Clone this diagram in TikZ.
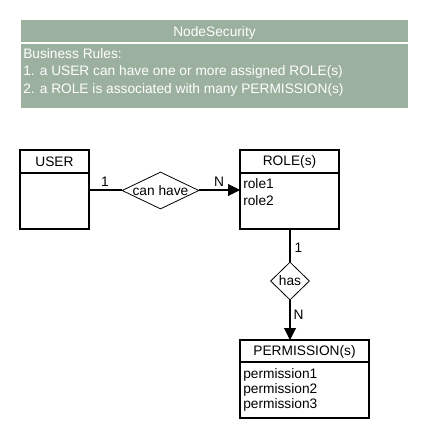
\documentclass[tikz,border=0pt]{standalone}
\usepackage{fontspec}
\setmainfont{Liberation Sans}
\usetikzlibrary{shapes.geometric,arrows.meta}
\definecolor{notegreen}{RGB}{155,176,158}
\begin{document}
\begin{tikzpicture}[x=0.75pt,y=-0.75pt,
  every node/.style={font=\fontsize{10.3pt}{10.3pt}\selectfont, inner sep=0pt},
  notetxt/.style={white},
  ent/.style={draw=black, line width=0.8pt, fill=white},
  lnk/.style={draw=black, line width=0.8pt},
  reltn/.style={draw=black, line width=0.6pt, diamond, inner sep=0pt},
  arr/.style={-{Triangle[length=9pt,width=9pt]}}]
\useasboundingbox (0,0) rectangle (430,440);
% note
\fill[notegreen] (21,20) rectangle (408,108);
\draw[white, line width=0.8pt] (21,43) -- (408,43);
\node[notetxt] (title) at (214.5,32.5) {NodeSecurity};
\node[notetxt, anchor=west] (br) at (23,54) {Business Rules:};
\node[notetxt, anchor=west] (r1) at (23,72) {1. a USER can have one or more assigned ROLE(s)};
\node[notetxt, anchor=west] (r2) at (23,90) {2. a ROLE is associated with many PERMISSION(s)};
% USER
\draw[ent] (20,150) rectangle (89,229);
\draw[lnk] (20,173) -- (89,173);
\node (user) at (54.5,162) {USER};
\coordinate (userR) at (89,190);
% ROLE
\draw[ent] (240,150) rectangle (339,229);
\draw[lnk] (240,173) -- (339,173);
\node (role) at (289.5,162) {ROLE(s)};
\node[anchor=west] (role1) at (243,184) {role1};
\node[anchor=west] (role2) at (243,201) {role2};
\coordinate (roleL) at (240,190);
\coordinate (roleB) at (290,229);
% PERMISSION
\draw[ent] (240,340) rectangle (369,418);
\draw[lnk] (240,362) -- (369,362);
\node (perm) at (304.5,351.5) {PERMISSION(s)};
\node[anchor=west] (p1) at (243,375) {permission1};
\node[anchor=west] (p2) at (243,390) {permission2};
\node[anchor=west] (p3) at (243,405) {permission3};
\coordinate (permT) at (290,340);
% relationships
\node[reltn, minimum width=57.75pt, minimum height=27.75pt] (can) at (160.5,190.5) {};
\node (cantxt) at (160.5,190.5) {can have};
\node[reltn, minimum width=29.25pt, minimum height=28.5pt] (has) at (290,281) {};
\node (hastxt) at (290,281) {has};
\draw[lnk] (userR) -- (can.west |- userR);
\draw[lnk, arr] (can.east |- userR) -- (roleL);
\draw[lnk] (roleB) -- (has.north);
\draw[lnk, arr] (has.south) -- (permT);
\node (c1) at (105,181.5) {1};
\node (cN) at (219,181.5) {N};
\node (h1) at (298.5,248) {1};
\node (hN) at (298.5,315) {N};
\end{tikzpicture}
\end{document}
